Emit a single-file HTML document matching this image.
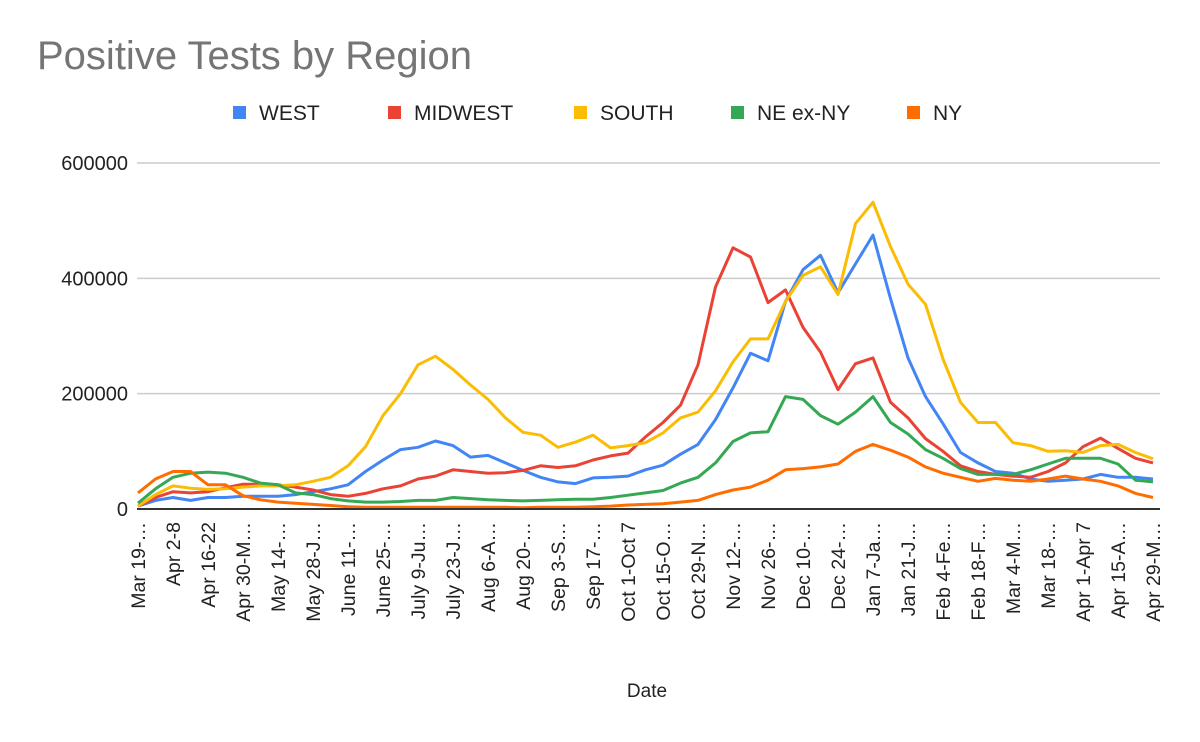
<!DOCTYPE html>
<html><head><meta charset="utf-8"><style>
body{margin:0;background:#fff;}
svg{display:block;font-family:"Liberation Sans",Arial,sans-serif;}
</style></head><body>
<svg id="chart" width="1200" height="742" viewBox="0 0 1200 742">
<rect width="1200" height="742" fill="#fff"/>
<text x="37" y="69" font-size="40" fill="#757575">Positive Tests by Region</text>
<g id="legend"></g>
<g id="grid"></g>
<g id="yaxis"></g>
<g id="series"></g>
<line x1="137" x2="1160" y1="509" y2="509" stroke="#333" stroke-width="2"/>
<g id="xaxis"></g>
<text x="647" y="697" font-size="19" fill="#222" text-anchor="middle">Date</text>
</svg>
<script>
const xLabels=["Mar 19-…","Apr 2-8","Apr 16-22","Apr 30-M…","May 14-…","May 28-J…","June 11-…","June 25-…","July 9-Ju…","July 23-J…","Aug 6-A…","Aug 20-…","Sep 3-S…","Sep 17-…","Oct 1-Oct 7","Oct 15-O…","Oct 29-N…","Nov 12-…","Nov 26-…","Dec 10-…","Dec 24-…","Jan 7-Ja…","Jan 21-J…","Feb 4-Fe…","Feb 18-F…","Mar 4-M…","Mar 18-…","Apr 1-Apr 7","Apr 15-A…","Apr 29-M…"];
const yTicks=[0,200000,400000,600000];
const seriesNames=["WEST","MIDWEST","SOUTH","NE ex-NY","NY"];
const seriesColors=["#4285f4","#ea4335","#fbbc04","#34a853","#ff6d01"];
const west=[5,15,20,15,20,20,22,22,22,25,30,35,42,65,85,103,107,118,110,90,93,80,67,55,47,44,54,55,57,68,76,95,112,155,210,270,257,360,415,440,375,425,475,365,262,195,148,98,80,65,62,52,48,50,52,60,55,55,52];
const midwest=[5,20,30,28,30,37,43,43,42,38,33,25,22,27,35,40,52,57,68,65,62,63,67,75,72,75,85,92,97,125,150,180,250,385,453,437,358,380,315,272,207,252,262,185,158,122,100,75,65,60,57,55,65,80,108,123,105,88,80];
const south=[5,25,40,36,34,35,38,40,40,42,48,55,75,108,162,200,250,265,242,215,190,158,133,128,107,116,128,106,110,115,132,158,168,205,255,295,295,360,405,420,372,495,532,455,390,355,260,185,150,150,115,110,100,101,98,110,112,98,87];
const neExNy=[10,35,55,62,64,62,55,45,42,28,25,18,14,12,12,13,15,15,20,18,16,15,14,15,16,17,17,20,24,28,32,45,55,80,117,132,134,195,190,162,147,168,195,150,130,103,88,70,60,60,60,68,78,88,88,88,78,50,47];
const ny=[28,52,65,65,42,42,23,16,12,10,8,6,4,3,3,3,3,3,3,3,3,3,2,3,3,3,4,5,7,8,9,12,15,25,33,38,50,68,70,73,78,100,112,102,90,73,62,55,48,53,50,48,52,57,52,48,40,27,20];
const allSeries=[west,midwest,south,neExNy,ny];
const NS="http://www.w3.org/2000/svg";
const X0=138,X1=1153,Y0=509,Y1=163,YMAX=600000;
const n=west.length;
function xPos(i){return X0+(X1-X0)*i/(n-1);}
function yPos(v){return Y0-(Y0-Y1)*v/YMAX;}
function mk(tag,attrs,parent){const e=document.createElementNS(NS,tag);for(const k in attrs)e.setAttribute(k,attrs[k]);parent.appendChild(e);return e;}
const grid=document.getElementById('grid'),yax=document.getElementById('yaxis');
yTicks.forEach(t=>{
  if(t>0){const l=mk('line',{x1:137,x2:1160,y1:yPos(t),y2:yPos(t),stroke:'#cccccc','stroke-width':1.5},grid);
  
  }
  const tx=mk('text',{x:128,y:yPos(t)+7,'font-size':20,fill:'#222','text-anchor':'end'},yax);
  tx.textContent=String(t);
  
  
});
const xax=document.getElementById('xaxis');
xLabels.forEach((lab,k)=>{
  const x=xPos(k*2)+7,y=522;
  const tx=mk('text',{x:0,y:0,'font-size':19.5,fill:'#222','text-anchor':'end',transform:`translate(${x},${y}) rotate(-90)`},xax);
  tx.textContent=lab;
  
  
});
const sg=document.getElementById('series');
allSeries.forEach((s,j)=>{
  const pts=s.map((v,i)=>xPos(i).toFixed(1)+','+yPos(v*1000).toFixed(1)).join(' ');
  const p=mk('polyline',{points:pts,fill:'none',stroke:seriesColors[j],'stroke-width':3,'stroke-linejoin':'round'},sg);
  
  
});
const lg=document.getElementById('legend');
const swX=[233,388,574,731,907];
seriesNames.forEach((nm,j)=>{
  const r=mk('rect',{x:swX[j],y:106,width:13,height:13,fill:seriesColors[j]},lg);
  
  
  const t=mk('text',{x:swX[j]+26,y:120,'font-size':21,fill:'#222'},lg);
  t.textContent=nm;
  
  
});
</script>
</body></html>
